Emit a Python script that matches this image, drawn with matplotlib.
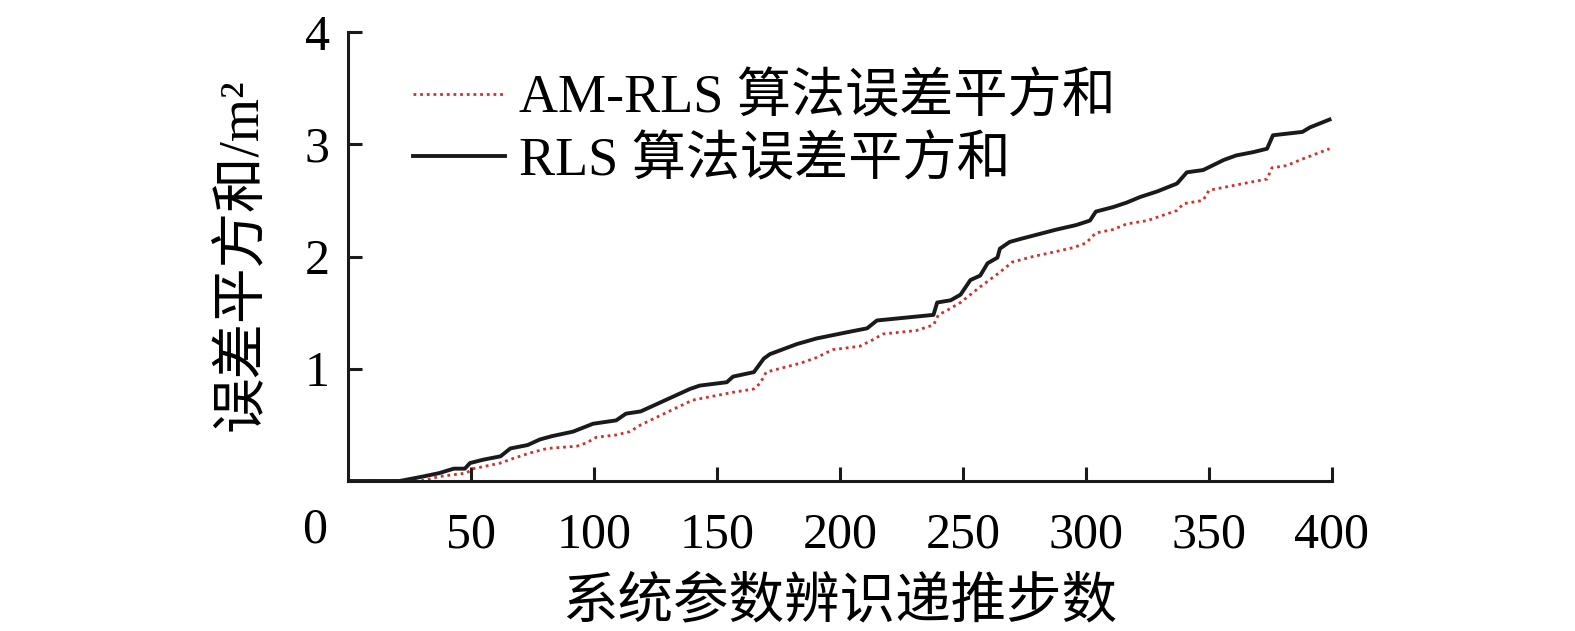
import matplotlib
matplotlib.use("Agg")
import matplotlib.pyplot as plt

plt.rcParams['font.family'] = ['Liberation Serif', 'Noto Sans CJK SC']

# RLS error sum of squares (black line)
rls_x = [0, 21, 30.5, 37, 43, 47.5, 49.6, 55, 62, 66, 73, 78, 83, 91.5, 99.6, 109, 113, 119,
         131, 139, 143, 154, 156.5, 165, 169, 171.5, 182.5, 190.5, 204, 211, 215, 238, 239.5,
         245, 249, 253, 257, 260, 264, 265, 269, 274, 281, 288, 296, 301.6, 304, 311, 316.5,
         322, 329, 337, 341, 347.6, 356, 361, 368, 373.6, 376, 388, 391, 399]
rls_y = [0, 0, 0.04, 0.07, 0.11, 0.11, 0.16, 0.19, 0.22, 0.29, 0.32, 0.37, 0.40, 0.44, 0.51,
         0.54, 0.60, 0.62, 0.74, 0.82, 0.85, 0.88, 0.93, 0.97, 1.09, 1.13, 1.22, 1.27, 1.33,
         1.36, 1.43, 1.48, 1.59, 1.61, 1.66, 1.79, 1.83, 1.94, 1.99, 2.07, 2.13, 2.16, 2.20,
         2.24, 2.28, 2.32, 2.40, 2.44, 2.48, 2.53, 2.58, 2.65, 2.75, 2.77, 2.86, 2.90, 2.93,
         2.96, 3.08, 3.11, 3.15, 3.22]

# AM-RLS error sum of squares (red dotted)
am_x = [0, 29, 32, 37, 48, 51, 62, 67, 74, 81, 93, 97, 101, 109, 114.6, 119, 140, 156.5, 165,
        167.5, 170, 177, 184, 190.5, 197, 208, 213.5, 217.5, 231, 238, 240, 243.5, 249, 257,
        265, 270, 278.5, 287, 295, 300, 304, 311, 316.5, 325, 337, 339.6, 347.6, 350, 364,
        373.6, 375.6, 381.6, 387, 399]
am_y = [0, 0, 0.01, 0.04, 0.07, 0.11, 0.16, 0.20, 0.25, 0.29, 0.31, 0.34, 0.39, 0.41, 0.44,
        0.50, 0.72, 0.79, 0.82, 0.87, 0.97, 1.01, 1.05, 1.10, 1.17, 1.20, 1.26, 1.31, 1.34,
        1.39, 1.48, 1.52, 1.59, 1.73, 1.86, 1.95, 2.00, 2.04, 2.08, 2.12, 2.21, 2.24, 2.29,
        2.32, 2.41, 2.47, 2.50, 2.59, 2.65, 2.69, 2.79, 2.81, 2.86, 2.96]

x_ticks = [50, 100, 150, 200, 250, 300, 350, 400]
y_ticks = [1, 2, 3, 4]

fig = plt.figure(figsize=(15.75, 6.31), dpi=100)
ax = fig.add_axes([348 / 1575, 1 - 481 / 631, 984 / 1575, 449 / 631])

ax.plot(am_x, am_y, color='#d22f2f', lw=2.0, linestyle=(0, (1, 1.4)),
        label='AM-RLS 算法误差平方和')
ax.plot(rls_x, rls_y, color='#1a1a1a', lw=2.8, label='RLS 算法误差平方和')

ax.set_xlim(0, 400)
ax.set_ylim(0, 4)
ax.set_xticks(x_ticks)
ax.set_yticks(y_ticks)
ax.tick_params(direction='in', length=10, width=2.2, labelsize=36, color='#1a1a1a')
ax.tick_params(axis='x', pad=22)
ax.tick_params(axis='y', pad=13)
for s in ['top', 'right']:
    ax.spines[s].set_visible(False)
for s in ['left', 'bottom']:
    ax.spines[s].set_linewidth(2.2)
    ax.spines[s].set_color('#1a1a1a')

ax.text(-0.034, -0.11, '0', transform=ax.transAxes, fontsize=36, ha='center', va='center')

ax.set_xlabel('系统参数辨识递推步数', fontsize=40, labelpad=14)
fig.text(242 / 1575, 1 - 255 / 631, '误差平方和/m²', rotation=90, fontsize=40,
         ha='center', va='center')

ax.legend(loc='upper left', bbox_to_anchor=(413 / 1575, 1 - 74 / 631),
          bbox_transform=fig.transFigure, frameon=False, fontsize=39,
          handlelength=1.7, handletextpad=0.25, labelspacing=0.22,
          borderpad=0, borderaxespad=0)

plt.savefig("out.png", dpi=100)
